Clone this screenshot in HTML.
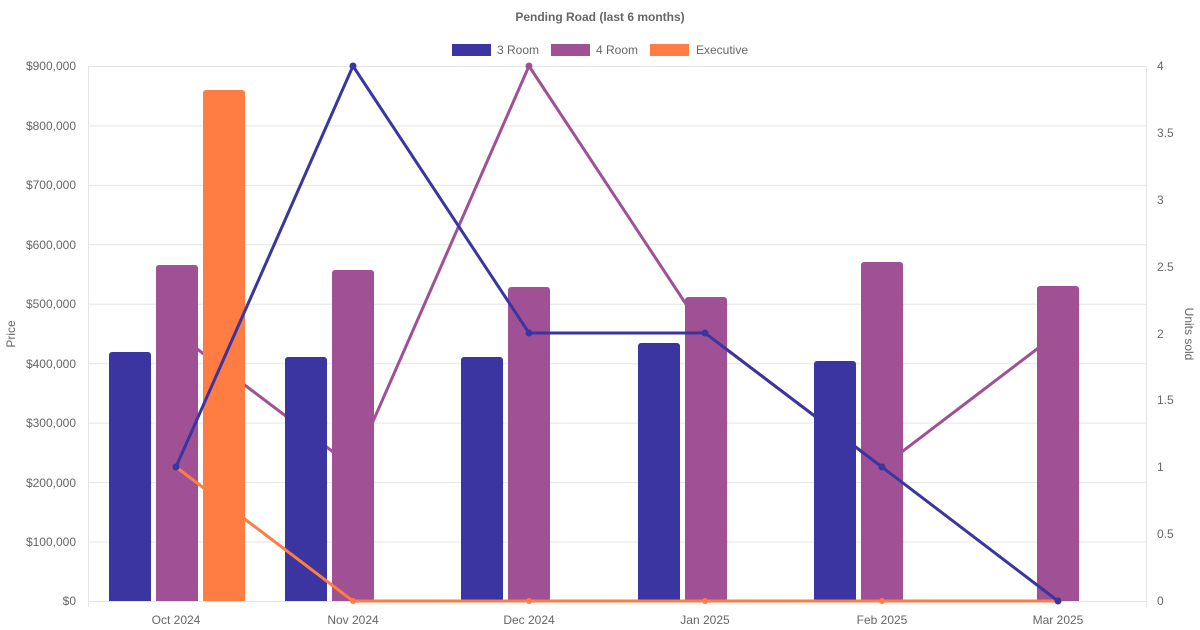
<!DOCTYPE html>
<html><head><meta charset="utf-8"><style>body{margin:0;background:#fff}svg{display:block}text{font-family:"Liberation Sans",sans-serif;fill:#666}</style></head><body>
<svg width="1200" height="630" viewBox="0 0 1200 630">
<text x="600" y="21" font-size="12" font-weight="bold" text-anchor="middle">Pending Road (last 6 months)</text>
<rect x="452" y="44" width="39" height="12" fill="#3a35a0"/><text x="497" y="54" font-size="12">3 Room</text>
<rect x="551" y="44" width="39" height="12" fill="#a05195"/><text x="596" y="54" font-size="12">4 Room</text>
<rect x="650" y="44" width="39" height="12" fill="#ff7c43"/><text x="696" y="54" font-size="12">Executive</text>
<g stroke="#e5e5e5" stroke-width="1">
<line x1="88" y1="66.5" x2="1146" y2="66.5"/><line x1="88" y1="125.9" x2="1146" y2="125.9"/><line x1="88" y1="185.4" x2="1146" y2="185.4"/><line x1="88" y1="244.8" x2="1146" y2="244.8"/><line x1="88" y1="304.3" x2="1146" y2="304.3"/><line x1="88" y1="363.7" x2="1146" y2="363.7"/><line x1="88" y1="423.1" x2="1146" y2="423.1"/><line x1="88" y1="482.6" x2="1146" y2="482.6"/><line x1="88" y1="542" x2="1146" y2="542"/><line x1="88" y1="601.5" x2="1146" y2="601.5"/>
<line x1="88.5" y1="66" x2="88.5" y2="607"/><line x1="1146.5" y1="66" x2="1146.5" y2="607"/>
</g>
<g font-size="12" text-anchor="end">
<text x="76" y="70">$900,000</text><text x="76" y="130">$800,000</text><text x="76" y="189">$700,000</text><text x="76" y="249">$600,000</text><text x="76" y="308">$500,000</text><text x="76" y="368">$400,000</text><text x="76" y="427">$300,000</text><text x="76" y="487">$200,000</text><text x="76" y="546">$100,000</text><text x="76" y="605">$0</text>
</g>
<g font-size="12">
<text x="1157" y="70">4</text><text x="1157" y="137">3.5</text><text x="1157" y="204">3</text><text x="1157" y="271">2.5</text><text x="1157" y="338">2</text><text x="1157" y="404">1.5</text><text x="1157" y="471">1</text><text x="1157" y="538">0.5</text><text x="1157" y="605">0</text>
</g>
<g font-size="12" text-anchor="middle">
<text x="176" y="624">Oct 2024</text><text x="353" y="624">Nov 2024</text><text x="529" y="624">Dec 2024</text><text x="705" y="624">Jan 2025</text><text x="882" y="624">Feb 2025</text><text x="1058" y="624">Mar 2025</text>
</g>
<text font-size="12" transform="translate(15,334) rotate(-90)" text-anchor="middle">Price</text>
<text font-size="12" transform="translate(1185,334) rotate(90)" text-anchor="middle">Units sold</text>
<polyline points="176,333 353,467 529,66 705,333 882,467 1058,333" fill="none" stroke="#a05195" stroke-width="3"/>
<g fill="#a05195"><circle cx="176" cy="333" r="3"/><circle cx="353" cy="467" r="3"/><circle cx="529" cy="66" r="3.5"/><circle cx="705" cy="333" r="3"/><circle cx="882" cy="467" r="3"/><circle cx="1058" cy="333" r="3"/></g>
<g fill="#3a35a0">
<path d="M109,601V355a3,3 0 0 1 3,-3H148a3,3 0 0 1 3,3V601Z"/>
<path d="M285,601V360a3,3 0 0 1 3,-3H324a3,3 0 0 1 3,3V601Z"/>
<path d="M461,601V360a3,3 0 0 1 3,-3H500a3,3 0 0 1 3,3V601Z"/>
<path d="M638,601V346a3,3 0 0 1 3,-3H677a3,3 0 0 1 3,3V601Z"/>
<path d="M814,601V364a3,3 0 0 1 3,-3H853a3,3 0 0 1 3,3V601Z"/>
</g>
<g fill="#a05195">
<path d="M156,601V268a3,3 0 0 1 3,-3H195a3,3 0 0 1 3,3V601Z"/>
<path d="M332,601V273a3,3 0 0 1 3,-3H371a3,3 0 0 1 3,3V601Z"/>
<path d="M508,601V290a3,3 0 0 1 3,-3H547a3,3 0 0 1 3,3V601Z"/>
<path d="M685,601V300a3,3 0 0 1 3,-3H724a3,3 0 0 1 3,3V601Z"/>
<path d="M861,601V265a3,3 0 0 1 3,-3H900a3,3 0 0 1 3,3V601Z"/>
<path d="M1037,601V289a3,3 0 0 1 3,-3H1076a3,3 0 0 1 3,3V601Z"/>
</g>
<path d="M203,601V93a3,3 0 0 1 3,-3H242a3,3 0 0 1 3,3V601Z" fill="#ff7c43"/>
<polyline points="176,467 353,601 529,601 705,601 882,601 1058,601" fill="none" stroke="#ff7c43" stroke-width="3"/>
<g fill="#ff7c43"><circle cx="176" cy="467" r="3"/><circle cx="353" cy="601" r="3"/><circle cx="529" cy="601" r="3"/><circle cx="705" cy="601" r="3"/><circle cx="882" cy="601" r="3"/><circle cx="1058" cy="601" r="3"/></g>
<polyline points="176,467 353,66 529,333 705,333 882,467 1058,601" fill="none" stroke="#3a35a0" stroke-width="3"/>
<g fill="#3a35a0"><circle cx="176" cy="467" r="3.5"/><circle cx="353" cy="66" r="3.5"/><circle cx="529" cy="333" r="3.5"/><circle cx="705" cy="333" r="3.5"/><circle cx="882" cy="467" r="3.5"/><circle cx="1058" cy="601" r="3.5"/></g>
</svg>
</body></html>
